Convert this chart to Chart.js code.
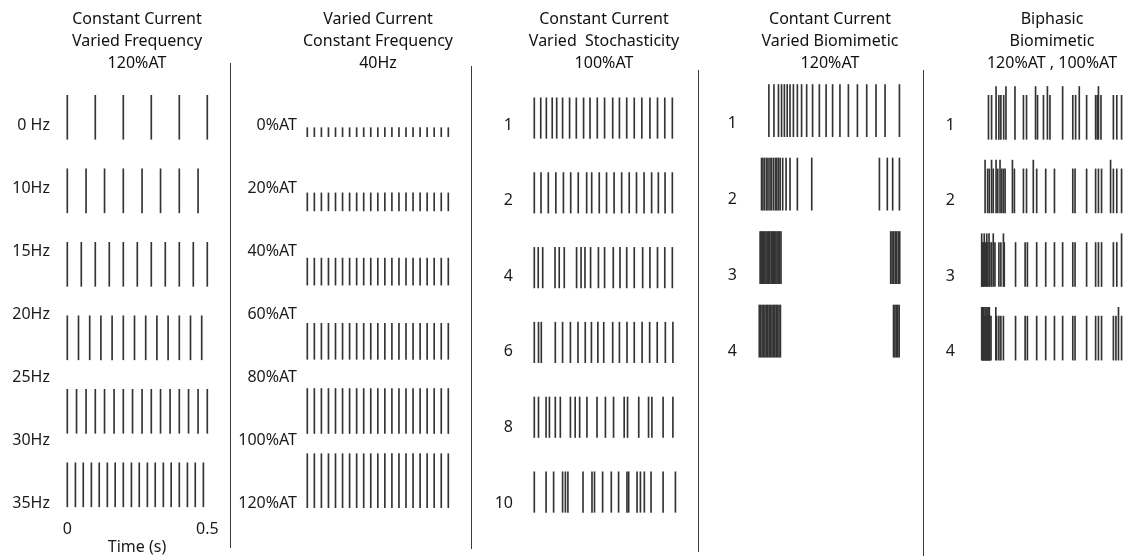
<!DOCTYPE html>
<html>
<head>
<meta charset="utf-8">
<title>Stimulation pulse trains</title>
<script src="https://cdn.jsdelivr.net/npm/chart.js@4.4.1/dist/chart.umd.min.js"></script>
<style>
  html, body { margin: 0; padding: 0; background: #fff; width: 1130px; height: 560px; overflow: hidden; position: relative; }
  canvas { position: absolute; top: 0; }
  .sep { position: absolute; width: 1px; background: #3a3a3a; }
</style>
</head>
<body>
<canvas id="pFreq" width="230" height="560" style="left:0px"></canvas>
<canvas id="pCurr" width="238" height="560" style="left:232px"></canvas>
<canvas id="pStoch" width="224" height="560" style="left:473px"></canvas>
<canvas id="pBiom" width="222" height="560" style="left:700px"></canvas>
<canvas id="pBiph" width="230" height="560" style="left:926px"></canvas>
<div class="sep" style="left:230px; top:63px; height:485px"></div>
<div class="sep" style="left:471px; top:66px; height:483px"></div>
<div class="sep" style="left:698px; top:70px; height:482px"></div>
<div class="sep" style="left:923px; top:70px; height:486px"></div>
<script>
// ---------- pulse times (ms) ----------
// Panel 1: constant current, varied frequency
const freqLabels = ['0 Hz', '10Hz', '15Hz', '20Hz', '25Hz', '30Hz', '35Hz'];
const train10Hz = [0, 100, 200, 300, 400, 500];
const train15Hz = [0, 67, 133, 200, 267, 333, 400, 467];
const train20Hz = [0, 50, 100, 150, 200, 250, 300, 350, 400, 450, 500];
const train25Hz = [0, 40, 80, 120, 160, 200, 240, 280, 320, 360, 400, 440, 480];
const train30Hz = [0, 33, 67, 100, 133, 167, 200, 233, 267, 300, 333, 367, 400, 433, 467, 500];
const train35Hz = [0, 29, 57, 86, 114, 143, 171, 200, 229, 257, 286, 314, 343, 371, 400, 429, 457, 486];
const freqAmp = 120; // %AT

// Panel 2: varied current, constant 40 Hz
const currentLabels = ['0%AT', '20%AT', '40%AT', '60%AT', '80%AT', '100%AT', '120%AT'];
const train40Hz = [0, 25, 50, 75, 100, 125, 150, 175, 200, 225, 250, 275, 300, 325, 350, 375, 400, 425, 450, 475, 500];
const currentAmps = [20, 40, 60, 80, 100, 120];

// Panel 3: constant current, varied stochasticity
const stochLabels = ['1', '2', '4', '6', '8', '10'];
const stoch1 = [0, 23, 43, 64, 80, 101, 126, 150, 176, 199, 225, 251, 280, 304, 330, 357, 384, 413, 440, 466, 493];
const stoch2 = [0, 24, 50, 77, 104, 130, 157, 187, 205, 232, 258, 285, 312, 339, 365, 392, 419, 443, 467, 493];
const stoch4 = [0, 14, 30, 74, 89, 107, 151, 167, 181, 201, 229, 251, 282, 306, 330, 357, 387, 413, 440, 466, 493];
const stoch6 = [0, 15, 25, 75, 101, 129, 156, 182, 204, 227, 248, 280, 304, 331, 357, 385, 412, 439, 468, 495];
const stoch8 = [0, 15, 42, 54, 75, 93, 129, 146, 162, 188, 224, 254, 283, 321, 333, 373, 408, 420, 460, 495];
const stoch10 = [0, 42, 69, 101, 111, 120, 174, 206, 215, 244, 275, 301, 331, 337, 367, 379, 393, 417, 460, 504];
const stochAmp = 100;

// Panel 4: constant current, biomimetic patterns
const biomLabels = ['1', '2', '3', '4'];
const biom1 = [35, 53, 69, 80, 90, 100, 110, 122, 136, 151, 169, 190, 214, 238, 261, 287, 317, 349, 382, 415, 447, 498];
const biom2 = [9, 14, 20, 27, 32, 39, 44, 51, 58, 63, 69, 75, 84, 96, 110, 136, 187, 427, 455, 474, 498];
const biom3 = [4, 8, 12, 17, 21, 25, 30, 34, 38, 43, 47, 51, 56, 60, 64, 69, 73, 78, 467, 472, 477, 483, 488, 494, 499];
const biom4 = [1, 6, 11, 16, 21, 26, 31, 36, 41, 46, 51, 56, 61, 66, 71, 76, 477, 482, 487, 492, 497];
const biomAmp = 120;

// Panel 5: biphasic biomimetic (120%AT and 100%AT pulses)
const biphLabels = ['1', '2', '3', '4'];
const biph1High = [51, 86, 118, 191, 233, 287, 346, 414];
const biph1Low = [24, 35, 61, 68, 78, 148, 159, 198, 219, 242, 323, 333, 372, 404, 410, 423, 467, 479, 496];
const biph2High = [12, 35, 51, 65, 109, 183, 457];
const biph2Low = [21, 27, 41, 57, 71, 77, 83, 116, 148, 159, 195, 227, 258, 323, 331, 372, 404, 414, 425, 467, 479, 496];
const biph3High = [0, 9, 18, 26, 41, 77, 496];
const biph3Low = [2, 6, 14, 21, 29, 35, 47, 61, 68, 80, 120, 154, 162, 195, 227, 258, 287, 323, 331, 372, 404, 414, 425, 467, 479];
const biph4High = [0, 4, 7, 12, 15, 19, 24, 27, 50, 485];
const biph4Low = [2, 6, 9, 14, 18, 21, 26, 29, 33, 53, 61, 68, 77, 120, 154, 162, 195, 227, 258, 287, 323, 331, 372, 404, 414, 425, 467, 476, 496];
const biphHighAmp = 120;
const biphLowAmp = 100;

// ---------- drawing ----------
Chart.defaults.font.family = "'Noto Sans', 'DejaVu Sans', sans-serif";
Chart.defaults.font.size = 16;
Chart.defaults.color = '#1a1a1a';

const PULSE_COLOR = '#333333';
const AREA_TOP = 80; // title block: 8 + 3 x 22 + 6

// rows: array of rows; each row is a list of {times, amp} groups
function makePanel(p) {
  const u = p.pxPerAT;
  const rowStep = p.rowPitch / u;          // row spacing in %AT units
  const bars = [];
  p.rows.forEach((groups, i) => {
    const base = -i * rowStep;
    groups.forEach(g => g.times.forEach(t => bars.push({ x: t / 1000, y: [base, base + g.amp] })));
  });

  const bottom = p.bottom;
  const areaL = p.left + p.axisWidth;
  const areaR = p.left + p.width - p.padRight;
  const tickVals = p.labels.map((_, j) => (p.base0 - (p.labelTop + j * p.labelPitch)) / u);

  const xScale = {
    type: 'linear',
    min: (areaL - p.x0) / p.pxPerSec,
    max: (areaR - p.x0) / p.pxPerSec,
    offset: false,
    bounds: 'data',
    display: !!p.timeAxis,
    grid: { display: false, drawTicks: false },
    border: { display: false },
    ticks: { autoSkip: false, maxRotation: 0, padding: 5, color: '#1a1a1a', callback: v => String(v) },
    afterBuildTicks: s => { s.ticks = [{ value: 0 }, { value: 0.5 }]; },
    title: { display: true, text: 'Time (s)', color: '#1a1a1a', padding: { top: 0, bottom: 3 } }
  };
  if (p.timeAxis) xScale.afterFit = s => { s.height = 45; };

  new Chart(document.getElementById(p.id), {
    type: 'bar',
    data: {
      datasets: [{
        data: bars,
        backgroundColor: PULSE_COLOR,
        borderWidth: 0,
        barThickness: 1
      }]
    },
    options: {
      responsive: false,
      animation: false,
      devicePixelRatio: 1,
      layout: { padding: { left: 0, right: p.padRight, top: 0, bottom: p.timeAxis ? 0 : 20 } },
      plugins: {
        legend: { display: false },
        tooltip: { enabled: false },
        title: {
          display: true,
          text: p.title,
          fullSize: false,
          color: '#111',
          font: { size: 16, weight: 'normal', lineHeight: '22px' },
          padding: { top: 8, bottom: 6 }
        }
      },
      scales: {
        x: xScale,
        y: {
          type: 'linear',
          min: (p.base0 - bottom) / u,
          max: (p.base0 - AREA_TOP) / u,
          bounds: 'data',
          grid: { display: false, drawTicks: false },
          border: { display: false },
          ticks: { autoSkip: false, padding: 4, color: '#1a1a1a', callback: (v, i) => p.labels[i] },
          afterBuildTicks: s => { s.ticks = tickVals.map(v => ({ value: v })); },
          afterFit: s => { s.width = p.axisWidth; }
        }
      }
    }
  });
}

makePanel({
  id: 'pFreq', left: 0, width: 230, axisWidth: 54, padRight: 10,
  x0: 67.3, pxPerSec: 280, base0: 139.3, rowPitch: 73.5, pxPerAT: 44 / 120,
  bottom: 515, timeAxis: true,
  labels: freqLabels, labelTop: 125, labelPitch: 63,
  title: ['Constant Current', 'Varied Frequency', '120%AT'],
  rows: [train10Hz, train15Hz, train20Hz, train25Hz, train30Hz, train35Hz].map(t => [{ times: t, amp: freqAmp }])
});

makePanel({
  id: 'pCurr', left: 232, width: 238, axisWidth: 69, padRight: 15,
  x0: 307.3, pxPerSec: 282, base0: 136.7, rowPitch: 74.2, pxPerAT: 0.45,
  bottom: 540,
  labels: currentLabels, labelTop: 125, labelPitch: 63,
  title: ['Varied Current', 'Constant Frequency', '40Hz'],
  rows: currentAmps.map(a => [{ times: train40Hz, amp: a }])
});

makePanel({
  id: 'pStoch', left: 473, width: 224, axisWidth: 44, padRight: 6,
  x0: 534.3, pxPerSec: 280, base0: 138.3, rowPitch: 74.8, pxPerAT: 0.405,
  bottom: 540,
  labels: stochLabels, labelTop: 125, labelPitch: 75.6,
  title: ['Constant Current', 'Varied  Stochasticity', '100%AT'],
  rows: [stoch1, stoch2, stoch4, stoch6, stoch8, stoch10].map(t => [{ times: t, amp: stochAmp }])
});

makePanel({
  id: 'pBiom', left: 700, width: 222, axisWidth: 41, padRight: 3,
  x0: 759, pxPerSec: 282, base0: 136.7, rowPitch: 73.5, pxPerAT: 0.435,
  bottom: 540,
  labels: biomLabels, labelTop: 123, labelPitch: 76.3,
  title: ['Contant Current', 'Varied Biomimetic', '120%AT'],
  rows: [biom1, biom2, biom3, biom4].map(t => [{ times: t, amp: biomAmp }])
});

makePanel({
  id: 'pBiph', left: 926, width: 230, axisWidth: 33, padRight: 11,
  x0: 981.7, pxPerSec: 282, base0: 139.3, rowPitch: 73.6, pxPerAT: 0.44,
  bottom: 540,
  labels: biphLabels, labelTop: 125, labelPitch: 75.6,
  title: ['Biphasic', 'Biomimetic', '120%AT , 100%AT'],
  rows: [
    [{ times: biph1High, amp: biphHighAmp }, { times: biph1Low, amp: biphLowAmp }],
    [{ times: biph2High, amp: biphHighAmp }, { times: biph2Low, amp: biphLowAmp }],
    [{ times: biph3High, amp: biphHighAmp }, { times: biph3Low, amp: biphLowAmp }],
    [{ times: biph4High, amp: biphHighAmp }, { times: biph4Low, amp: biphLowAmp }]
  ]
});
</script>
</body>
</html>
